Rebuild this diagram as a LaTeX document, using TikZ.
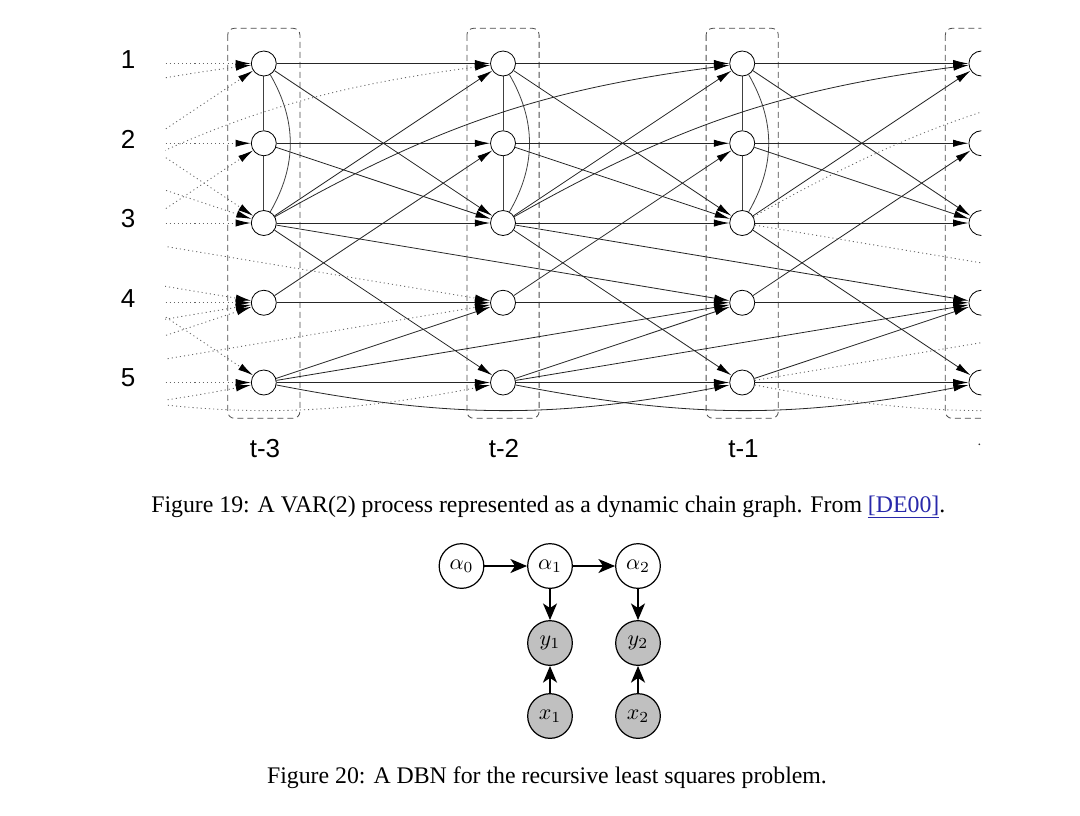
\documentclass[tikz,border=0pt]{standalone}
\usepackage[no-math]{fontspec}
\setmainfont{Liberation Serif}
\setsansfont{Liberation Sans}
\usetikzlibrary{arrows.meta}
\pgfdeclarelayer{bg}
\pgfdeclarelayer{paper}
\pgfsetlayers{paper,bg,main}
\definecolor{linkblue}{RGB}{40,40,170}
\definecolor{nodegray}{RGB}{192,192,192}
\newcommand\dbnlab[1]{\scalebox{1.65}{$#1$}}
\newcommand\lagone[2]{%
  \pgfmathtruncatemacro\tgtA{#1+1}%
  \foreach \a/\b in {1/1,1/3,2/2,2/3,3/1,3/3,3/5,4/2,4/4,5/4,5/5}{\draw[#2] (n#1-\a) -- (n\tgtA-\b);}%
}
\newcommand\lagtwo[2]{%
  \pgfmathtruncatemacro\tgtB{#1+2}%
  \draw[#2] (n#1-3) to[bend left=11] (n\tgtB-1);
  \draw[#2] (n#1-3) -- (n\tgtB-4);
  \draw[#2] (n#1-5) -- (n\tgtB-4);
  \draw[#2] (n#1-5) to[bend right=11] (n\tgtB-5);
}
\begin{document}
\begin{tikzpicture}[x=0.75pt,y=-0.75pt,
  vn/.style={circle,draw=black,fill=white,line width=0.6pt,minimum size=18.75pt,inner sep=0pt},
  ph/.style={circle,minimum size=18.75pt,inner sep=0pt},
  ed/.style={line width=0.6pt,draw=black!85,-{Latex[length=11.5pt,width=5.4pt,color=black]}},
  dt/.style={line width=0.65pt,draw=black!60,dash pattern=on 0.8pt off 2.3pt,-{Latex[length=11.5pt,width=5.4pt,color=black]}},
  wl/.style={line width=0.6pt,draw=black!75},
  bx/.style={draw=black!70,line width=0.6pt,dash pattern=on 4.5pt off 3pt,rounded corners=5pt},
  rl/.style={font=\sffamily\fontsize{19.5}{20}\selectfont,anchor=base,inner sep=0pt},
  captxt/.style={font=\fontsize{17.85}{20}\selectfont,anchor=base,inner sep=0pt},
  bn/.style={circle,draw=black,line width=0.9pt,minimum size=33.5pt,inner sep=0pt,fill=white},
  bgn/.style={bn,fill=nodegray},
  ba/.style={line width=1.4pt,-{Stealth[length=12.5pt,width=10.5pt,inset=3.5pt]}}]
\useasboundingbox (0,0) rectangle (1080,815);
\begin{pgfonlayer}{paper}
  \fill[white] (0,0) rectangle (1080,815);
\end{pgfonlayer}

% ---- nodes of the chain graph ----
\begin{scope}
  \clip (0,0) rectangle (981.4,815);
  \foreach \c/\x in {2/263.8,3/503,4/742.2,5/981.4}{
    \foreach \r/\y in {1/63.5,2/143.25,3/223,4/302.75,5/382.5}{
      \node[vn] (n\c-\r) at (\x,\y) {};
    }
  }
\end{scope}
\foreach \c/\x in {0/-214.6,1/24.6,6/1220.6}{
  \foreach \r/\y in {1/63.5,2/143.25,3/223,4/302.75,5/382.5}{
    \node[ph] (n\c-\r) at (\x,\y) {};
  }
}

% ---- edges and slice boxes ----
\begin{pgfonlayer}{bg}
  \begin{scope}
    \clip (0,0) rectangle (981.4,815);
    \foreach \x in {263.8,503,742.2,981.4}{
      \draw[bx] (\x-36.1,28.3) rectangle (\x+36.1,418.3);
    }
    \foreach \c in {2,3,4}{
      \draw[wl] (n\c-1) -- (n\c-2);
      \draw[wl] (n\c-2) -- (n\c-3);
      \draw[wl] (n\c-1) to[bend left=30] (n\c-3);
    }
    \lagone{2}{ed}
    \lagone{3}{ed}
    \lagone{4}{ed}
    \lagtwo{2}{ed}
    \lagtwo{3}{ed}
  \end{scope}
  \begin{scope}
    \clip (165,0) rectangle (981.4,815);
    \lagone{1}{dt}
    \lagtwo{0}{dt}
    \lagtwo{1}{dt}
    \lagtwo{4}{dt}
  \end{scope}
\end{pgfonlayer}

% ---- labels ----
\node[rl] (r1) at (128,68.3) {1};
\node[rl] (r2) at (128,148) {2};
\node[rl] (r3) at (128,227.5) {3};
\node[rl] (r4) at (128,307.2) {4};
\node[rl] (r5) at (128,386.8) {5};
\node[rl] (t3) at (265,457) {t-3};
\node[rl] (t2) at (504,457) {t-2};
\node[rl] (t1) at (743.5,457) {t-1};
\node[circle,fill=black!80,inner sep=0pt,minimum size=1.4pt] (tdot) at (979.3,444.3) {};

\node[captxt] (cap19) at (548.3,512.3) {Figure 19: A VAR(2) process represented as a dynamic chain graph. From {\color{linkblue}\underline{[DE00]}}.};

% ---- DBN ----
\node[bn] (a0) at (461.5,566) {\dbnlab{\alpha_0}};
\node[bn] (a1) at (550,566) {\dbnlab{\alpha_1}};
\node[bn] (a2) at (638,566) {\dbnlab{\alpha_2}};
\node[bgn] (y1) at (550,643) {\dbnlab{y_1}};
\node[bgn] (y2) at (638,643) {\dbnlab{y_2}};
\node[bgn] (x1) at (550,716) {\dbnlab{x_1}};
\node[bgn] (x2) at (638,716) {\dbnlab{x_2}};
\draw[ba] (a0) -- (a1);
\draw[ba] (a1) -- (a2);
\draw[ba] (a1) -- (y1);
\draw[ba] (a2) -- (y2);
\draw[ba] (x1) -- (y1);
\draw[ba] (x2) -- (y2);

\node[captxt] (cap20) at (547,783.5) {Figure 20: A DBN for the recursive least squares problem.};
\end{tikzpicture}
\end{document}
